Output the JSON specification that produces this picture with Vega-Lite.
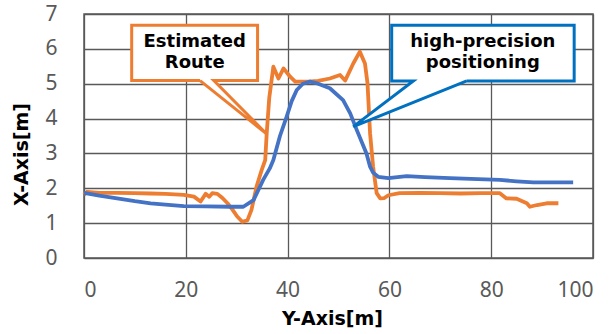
{
  "$schema": "https://vega.github.io/schema/vega-lite/v6.json",
  "width": 509,
  "height": 244,
  "autosize": {"type": "none"},
  "padding": {"left": 84, "top": 14, "right": 22, "bottom": 76},
  "background": "white",
  "config": {
    "view": {"stroke": "#595959", "strokeWidth": 1.5},
    "font": "Noto Sans"
  },
  "datasets": {
    "lines": [
      {"series": "Estimated", "i": 0, "x": 0, "y": 1.81},
      {"series": "Estimated", "i": 1, "x": 0.6, "y": 1.9},
      {"series": "Estimated", "i": 2, "x": 3, "y": 1.87},
      {"series": "Estimated", "i": 3, "x": 6.5, "y": 1.87},
      {"series": "Estimated", "i": 4, "x": 10, "y": 1.86},
      {"series": "Estimated", "i": 5, "x": 13, "y": 1.85},
      {"series": "Estimated", "i": 6, "x": 16, "y": 1.84},
      {"series": "Estimated", "i": 7, "x": 19.6, "y": 1.81},
      {"series": "Estimated", "i": 8, "x": 21.6, "y": 1.76},
      {"series": "Estimated", "i": 9, "x": 22.9, "y": 1.62},
      {"series": "Estimated", "i": 10, "x": 23.9, "y": 1.84},
      {"series": "Estimated", "i": 11, "x": 24.6, "y": 1.76},
      {"series": "Estimated", "i": 12, "x": 25.2, "y": 1.86},
      {"series": "Estimated", "i": 13, "x": 26.2, "y": 1.84},
      {"series": "Estimated", "i": 14, "x": 27.2, "y": 1.72},
      {"series": "Estimated", "i": 15, "x": 28.2, "y": 1.57},
      {"series": "Estimated", "i": 16, "x": 29.2, "y": 1.38},
      {"series": "Estimated", "i": 17, "x": 30.1, "y": 1.19},
      {"series": "Estimated", "i": 18, "x": 31.1, "y": 1.04},
      {"series": "Estimated", "i": 19, "x": 32.1, "y": 1.08},
      {"series": "Estimated", "i": 20, "x": 32.9, "y": 1.38},
      {"series": "Estimated", "i": 21, "x": 33.9, "y": 2.05},
      {"series": "Estimated", "i": 22, "x": 34.9, "y": 2.52},
      {"series": "Estimated", "i": 23, "x": 35.6, "y": 2.81},
      {"series": "Estimated", "i": 24, "x": 35.9, "y": 3.58},
      {"series": "Estimated", "i": 25, "x": 36.4, "y": 4.6},
      {"series": "Estimated", "i": 26, "x": 37.2, "y": 5.49},
      {"series": "Estimated", "i": 27, "x": 38.2, "y": 5.15},
      {"series": "Estimated", "i": 28, "x": 39.2, "y": 5.44},
      {"series": "Estimated", "i": 29, "x": 40.5, "y": 5.2},
      {"series": "Estimated", "i": 30, "x": 41.5, "y": 5.06},
      {"series": "Estimated", "i": 31, "x": 44, "y": 5.06},
      {"series": "Estimated", "i": 32, "x": 46, "y": 5.08},
      {"series": "Estimated", "i": 33, "x": 48.3, "y": 5.15},
      {"series": "Estimated", "i": 34, "x": 50.3, "y": 5.25},
      {"series": "Estimated", "i": 35, "x": 51.3, "y": 5.09},
      {"series": "Estimated", "i": 36, "x": 52.9, "y": 5.58},
      {"series": "Estimated", "i": 37, "x": 54.2, "y": 5.92},
      {"series": "Estimated", "i": 38, "x": 55.2, "y": 5.58},
      {"series": "Estimated", "i": 39, "x": 55.7, "y": 5.01},
      {"series": "Estimated", "i": 40, "x": 56.2, "y": 3.58},
      {"series": "Estimated", "i": 41, "x": 56.8, "y": 2.62},
      {"series": "Estimated", "i": 42, "x": 57.5, "y": 1.86},
      {"series": "Estimated", "i": 43, "x": 58.2, "y": 1.71},
      {"series": "Estimated", "i": 44, "x": 59, "y": 1.72},
      {"series": "Estimated", "i": 45, "x": 59.8, "y": 1.8},
      {"series": "Estimated", "i": 46, "x": 62, "y": 1.86},
      {"series": "Estimated", "i": 47, "x": 66, "y": 1.87},
      {"series": "Estimated", "i": 48, "x": 70, "y": 1.86},
      {"series": "Estimated", "i": 49, "x": 74, "y": 1.85},
      {"series": "Estimated", "i": 50, "x": 78, "y": 1.86},
      {"series": "Estimated", "i": 51, "x": 81.7, "y": 1.86},
      {"series": "Estimated", "i": 52, "x": 83, "y": 1.71},
      {"series": "Estimated", "i": 53, "x": 85, "y": 1.7},
      {"series": "Estimated", "i": 54, "x": 87, "y": 1.57},
      {"series": "Estimated", "i": 55, "x": 87.6, "y": 1.47},
      {"series": "Estimated", "i": 56, "x": 89, "y": 1.52},
      {"series": "Estimated", "i": 57, "x": 90.9, "y": 1.57},
      {"series": "Estimated", "i": 58, "x": 93.2, "y": 1.57},
      {"series": "Precise", "i": 0, "x": 0, "y": 1.87},
      {"series": "Precise", "i": 1, "x": 3, "y": 1.79},
      {"series": "Precise", "i": 2, "x": 6.5, "y": 1.71},
      {"series": "Precise", "i": 3, "x": 10, "y": 1.63},
      {"series": "Precise", "i": 4, "x": 13.1, "y": 1.57},
      {"series": "Precise", "i": 5, "x": 16, "y": 1.53},
      {"series": "Precise", "i": 6, "x": 19.6, "y": 1.49},
      {"series": "Precise", "i": 7, "x": 24, "y": 1.48},
      {"series": "Precise", "i": 8, "x": 28.7, "y": 1.47},
      {"series": "Precise", "i": 9, "x": 31.3, "y": 1.47},
      {"series": "Precise", "i": 10, "x": 33.3, "y": 1.66},
      {"series": "Precise", "i": 11, "x": 35.2, "y": 2.24},
      {"series": "Precise", "i": 12, "x": 36.5, "y": 2.57},
      {"series": "Precise", "i": 13, "x": 37.2, "y": 2.81},
      {"series": "Precise", "i": 14, "x": 38.5, "y": 3.5},
      {"series": "Precise", "i": 15, "x": 39.8, "y": 4.05},
      {"series": "Precise", "i": 16, "x": 40.8, "y": 4.5},
      {"series": "Precise", "i": 17, "x": 41.8, "y": 4.82},
      {"series": "Precise", "i": 18, "x": 43, "y": 5.0},
      {"series": "Precise", "i": 19, "x": 44.4, "y": 5.06},
      {"series": "Precise", "i": 20, "x": 46, "y": 5.0},
      {"series": "Precise", "i": 21, "x": 48.3, "y": 4.87},
      {"series": "Precise", "i": 22, "x": 50.9, "y": 4.53},
      {"series": "Precise", "i": 23, "x": 52.3, "y": 4.15},
      {"series": "Precise", "i": 24, "x": 53.6, "y": 3.67},
      {"series": "Precise", "i": 25, "x": 55.5, "y": 3.0},
      {"series": "Precise", "i": 26, "x": 56.2, "y": 2.62},
      {"series": "Precise", "i": 27, "x": 56.8, "y": 2.45},
      {"series": "Precise", "i": 28, "x": 57.8, "y": 2.33},
      {"series": "Precise", "i": 29, "x": 59.8, "y": 2.29},
      {"series": "Precise", "i": 30, "x": 63.4, "y": 2.35},
      {"series": "Precise", "i": 31, "x": 67, "y": 2.32},
      {"series": "Precise", "i": 32, "x": 71.9, "y": 2.29},
      {"series": "Precise", "i": 33, "x": 76, "y": 2.27},
      {"series": "Precise", "i": 34, "x": 81.7, "y": 2.24},
      {"series": "Precise", "i": 35, "x": 85, "y": 2.2},
      {"series": "Precise", "i": 36, "x": 88.3, "y": 2.17},
      {"series": "Precise", "i": 37, "x": 92, "y": 2.17},
      {"series": "Precise", "i": 38, "x": 96.1, "y": 2.17}
    ],
    "callouts": [
      {"box": "Estimated", "i": 0, "x": 22.8, "y": 5.09},
      {"box": "Estimated", "i": 1, "x": 9.37, "y": 5.09},
      {"box": "Estimated", "i": 2, "x": 9.37, "y": 6.68},
      {"box": "Estimated", "i": 3, "x": 34.1, "y": 6.68},
      {"box": "Estimated", "i": 4, "x": 34.1, "y": 5.09},
      {"box": "Estimated", "i": 5, "x": 25.5, "y": 5.09},
      {"box": "Estimated", "i": 6, "x": 35.8, "y": 3.57},
      {"box": "Estimated", "i": 7, "x": 22.8, "y": 5.09},
      {"box": "Precise", "i": 0, "x": 75.2, "y": 5.08},
      {"box": "Precise", "i": 1, "x": 96.3, "y": 5.08},
      {"box": "Precise", "i": 2, "x": 96.3, "y": 6.68},
      {"box": "Precise", "i": 3, "x": 60.45, "y": 6.68},
      {"box": "Precise", "i": 4, "x": 60.45, "y": 5.08},
      {"box": "Precise", "i": 5, "x": 64.7, "y": 5.08},
      {"box": "Precise", "i": 6, "x": 52.9, "y": 3.77},
      {"box": "Precise", "i": 7, "x": 75.2, "y": 5.08}
    ],
    "labels": [
      {"x": 21.75, "y": 6.21, "text": "Estimated"},
      {"x": 21.75, "y": 5.6, "text": "Route"},
      {"x": 78.35, "y": 6.21, "text": "high-precision"},
      {"x": 78.35, "y": 5.6, "text": "positioning"}
    ]
  },
  "encoding": {
    "x": {
      "field": "x", "type": "quantitative",
      "scale": {"domain": [0, 100], "nice": false, "zero": false},
      "axis": {
        "title": "Y-Axis[m]", "values": [0, 20, 40, 60, 80, 100],
        "grid": true, "gridColor": "#595959", "gridWidth": 1.3, "gridOpacity": 1,
        "domain": false, "ticks": false, "labelPadding": 21, "labelOverlap": false,
        "labelFontSize": 21, "labelColor": "#595959", "labelFont": "Noto Sans",
        "titleFontSize": 19, "titleFontWeight": "bold", "titleColor": "#000000",
        "titleFont": "DejaVu Sans", "titleX": 248, "titleY": 60,
        "titleBaseline": "middle", "titleAlign": "center"
      }
    },
    "y": {
      "field": "y", "type": "quantitative",
      "scale": {"domain": [0, 7], "nice": false, "zero": false},
      "axis": {
        "title": "X-Axis[m]", "values": [0, 1, 2, 3, 4, 5, 6, 7],
        "grid": true, "gridColor": "#595959", "gridWidth": 1.3, "gridOpacity": 1,
        "domain": false, "ticks": false, "labelPadding": 27, "labelOverlap": false,
        "labelFontSize": 21, "labelColor": "#595959", "labelFont": "Noto Sans",
        "titleFontSize": 19, "titleFontWeight": "bold", "titleColor": "#000000",
        "titleFont": "DejaVu Sans", "titleX": -63, "titleY": 140,
        "titleBaseline": "middle", "titleAlign": "center", "titleAngle": -90
      }
    }
  },
  "layer": [
    {
      "data": {"name": "lines"},
      "mark": {"type": "line", "strokeWidth": 3.8, "strokeJoin": "round"},
      "encoding": {
        "order": {"field": "i", "type": "quantitative"},
        "color": {
          "field": "series", "type": "nominal",
          "scale": {"domain": ["Estimated", "Precise"], "range": ["#ED7D31", "#4472C4"]},
          "legend": null
        }
      }
    },
    {
      "data": {"name": "callouts"},
      "mark": {"type": "line", "fill": "white", "strokeWidth": 3, "strokeJoin": "miter"},
      "encoding": {
        "order": {"field": "i", "type": "quantitative"},
        "detail": {"field": "box"},
        "stroke": {
          "field": "box", "type": "nominal",
          "scale": {"domain": ["Estimated", "Precise"], "range": ["#ED7D31", "#0070C0"]},
          "legend": null
        }
      }
    },
    {
      "data": {"name": "labels"},
      "mark": {"type": "text", "fontSize": 18, "fontWeight": "bold", "color": "#000000", "font": "DejaVu Sans", "baseline": "middle"},
      "encoding": {
        "text": {"field": "text"}
      }
    }
  ]
}
